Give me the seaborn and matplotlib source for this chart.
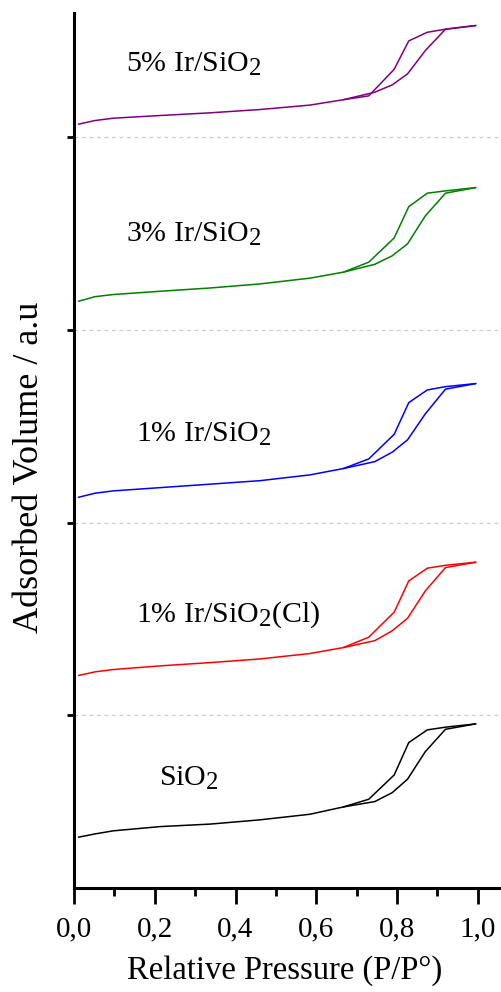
import numpy as np
import pandas as pd
import matplotlib
matplotlib.use("Agg")
import matplotlib.pyplot as plt
import matplotlib._mathtext as _mt
import seaborn as sns

# ---------------- data ----------------
samples = ["SiO$_2$", "1% Ir/SiO$_2$(Cl)", "1% Ir/SiO$_2$", "3% Ir/SiO$_2$", "5% Ir/SiO$_2$"]
colors = ["#000000", "#ff0000", "#0000ff", "#008000", "#800080"]

p_ads = [0.011, 0.052, 0.097, 0.213, 0.337, 0.460, 0.584, 0.667, 0.745, 0.788, 0.826, 0.870, 0.920, 0.995]
p_des = [0.995, 0.920, 0.875, 0.829, 0.793, 0.730, 0.667]

v_ads_sio2 = [0.368, 0.385, 0.401, 0.423, 0.436, 0.458, 0.487, 0.525, 0.553, 0.599, 0.669, 0.812, 0.928, 0.956]
v_des_sio2 = [0.956, 0.939, 0.925, 0.859, 0.691, 0.565, 0.525]

v_ads_1cl = [1.207, 1.226, 1.238, 1.257, 1.274, 1.293, 1.321, 1.352, 1.388, 1.439, 1.504, 1.646, 1.767, 1.795]
v_des_1cl = [1.795, 1.779, 1.764, 1.698, 1.536, 1.406, 1.352]

v_ads_1 = [2.132, 2.153, 2.165, 2.182, 2.200, 2.218, 2.248, 2.281, 2.317, 2.366, 2.430, 2.565, 2.693, 2.722]
v_des_1 = [2.722, 2.706, 2.689, 2.623, 2.459, 2.331, 2.281]

v_ads_3 = [3.149, 3.173, 3.184, 3.201, 3.218, 3.239, 3.269, 3.300, 3.341, 3.385, 3.447, 3.592, 3.710, 3.739]
v_des_3 = [3.739, 3.722, 3.710, 3.640, 3.478, 3.352, 3.300]

v_ads_5 = [4.068, 4.087, 4.099, 4.113, 4.127, 4.144, 4.167, 4.195, 4.234, 4.272, 4.329, 4.450, 4.561, 4.580]
v_des_5 = [4.580, 4.561, 4.545, 4.500, 4.353, 4.215, 4.195]

label_x = [0.210, 0.153, 0.153, 0.130, 0.130]
label_y = [0.634, 1.487, 2.421, 3.459, 4.341]

xticks = [0.0, 0.2, 0.4, 0.6, 0.8, 1.0]
xticklabels = ["0,0", "0,2", "0,4", "0,6", "0,8", "1,0"]
yticks = [1, 2, 3, 4]

# ---------------- build long table ----------------
ads_all = [v_ads_sio2, v_ads_1cl, v_ads_1, v_ads_3, v_ads_5]
des_all = [v_des_sio2, v_des_1cl, v_des_1, v_des_3, v_des_5]
rows = []
for s, va, vd in zip(samples, ads_all, des_all):
    for p, v in zip(p_ads, va):
        rows.append({"p": p, "v": v, "sample": s, "curve": s + "_ads"})
    for p, v in zip(p_des, vd):
        rows.append({"p": p, "v": v, "sample": s, "curve": s + "_des"})
df = pd.DataFrame(rows)

# ---------------- plotting ----------------
sns.set_style("ticks")
plt.rcParams["font.family"] = ["Liberation Serif", "DejaVu Serif"]
plt.rcParams["mathtext.fontset"] = "custom"
plt.rcParams["mathtext.rm"] = "Liberation Serif"
plt.rcParams["mathtext.it"] = "Liberation Serif"
plt.rcParams["mathtext.bf"] = "Liberation Serif"
for k in ["text.color", "axes.labelcolor", "xtick.color", "ytick.color", "axes.edgecolor"]:
    plt.rcParams[k] = "black"
# larger subscripts, as in the reference
_mt.SHRINK_FACTOR = 0.83

fig = plt.figure(figsize=(5.01, 9.92), dpi=100)
ax = fig.add_axes([74 / 501, 1 - 887.5 / 992, 426 / 501, (887.5 - 13) / 992])

sns.lineplot(data=df, x="p", y="v", hue="sample", units="curve", estimator=None,
             sort=False, palette=dict(zip(samples, colors)), hue_order=samples,
             linewidth=1.1, legend=False, ax=ax)

for s, lx, ly in zip(samples, label_x, label_y):
    ax.text(lx, ly, s, fontsize=21.5, color="black", ha="left", va="baseline")

ax.set_xlim(0, 1.055)
ax.set_ylim(0.107, 4.645)
ax.set_xticks(xticks)
ax.set_xticklabels(xticklabels)
ax.set_xticks([0.1, 0.3, 0.5, 0.7, 0.9], minor=True)
ax.set_yticks(yticks)
ax.set_yticklabels([])
for y in yticks:
    ax.axhline(y, color="#cccccc", linestyle=(0, (3, 3)), linewidth=0.9, zorder=0)

for side in ["top", "right"]:
    ax.spines[side].set_visible(False)
for side in ["left", "bottom"]:
    ax.spines[side].set_linewidth(2.2)
    ax.spines[side].set_color("black")

ax.tick_params(axis="x", which="major", length=11.5, width=2, direction="out",
               labelsize=21, pad=9, colors="black")
ax.tick_params(axis="x", which="minor", length=5.5, width=2, direction="out")
ax.tick_params(axis="y", which="major", length=5, width=2, direction="out")

ax.set_xlabel("Relative Pressure (P/P°)", fontsize=23.5, va="baseline")
ax.xaxis.set_label_coords(0.495, -0.1046)
ax.set_ylabel("Adsorbed Volume / a.u", fontsize=26, va="center", ha="center")
ax.yaxis.set_label_coords(-0.105, 0.480)

fig.savefig("out.png", dpi=100)
